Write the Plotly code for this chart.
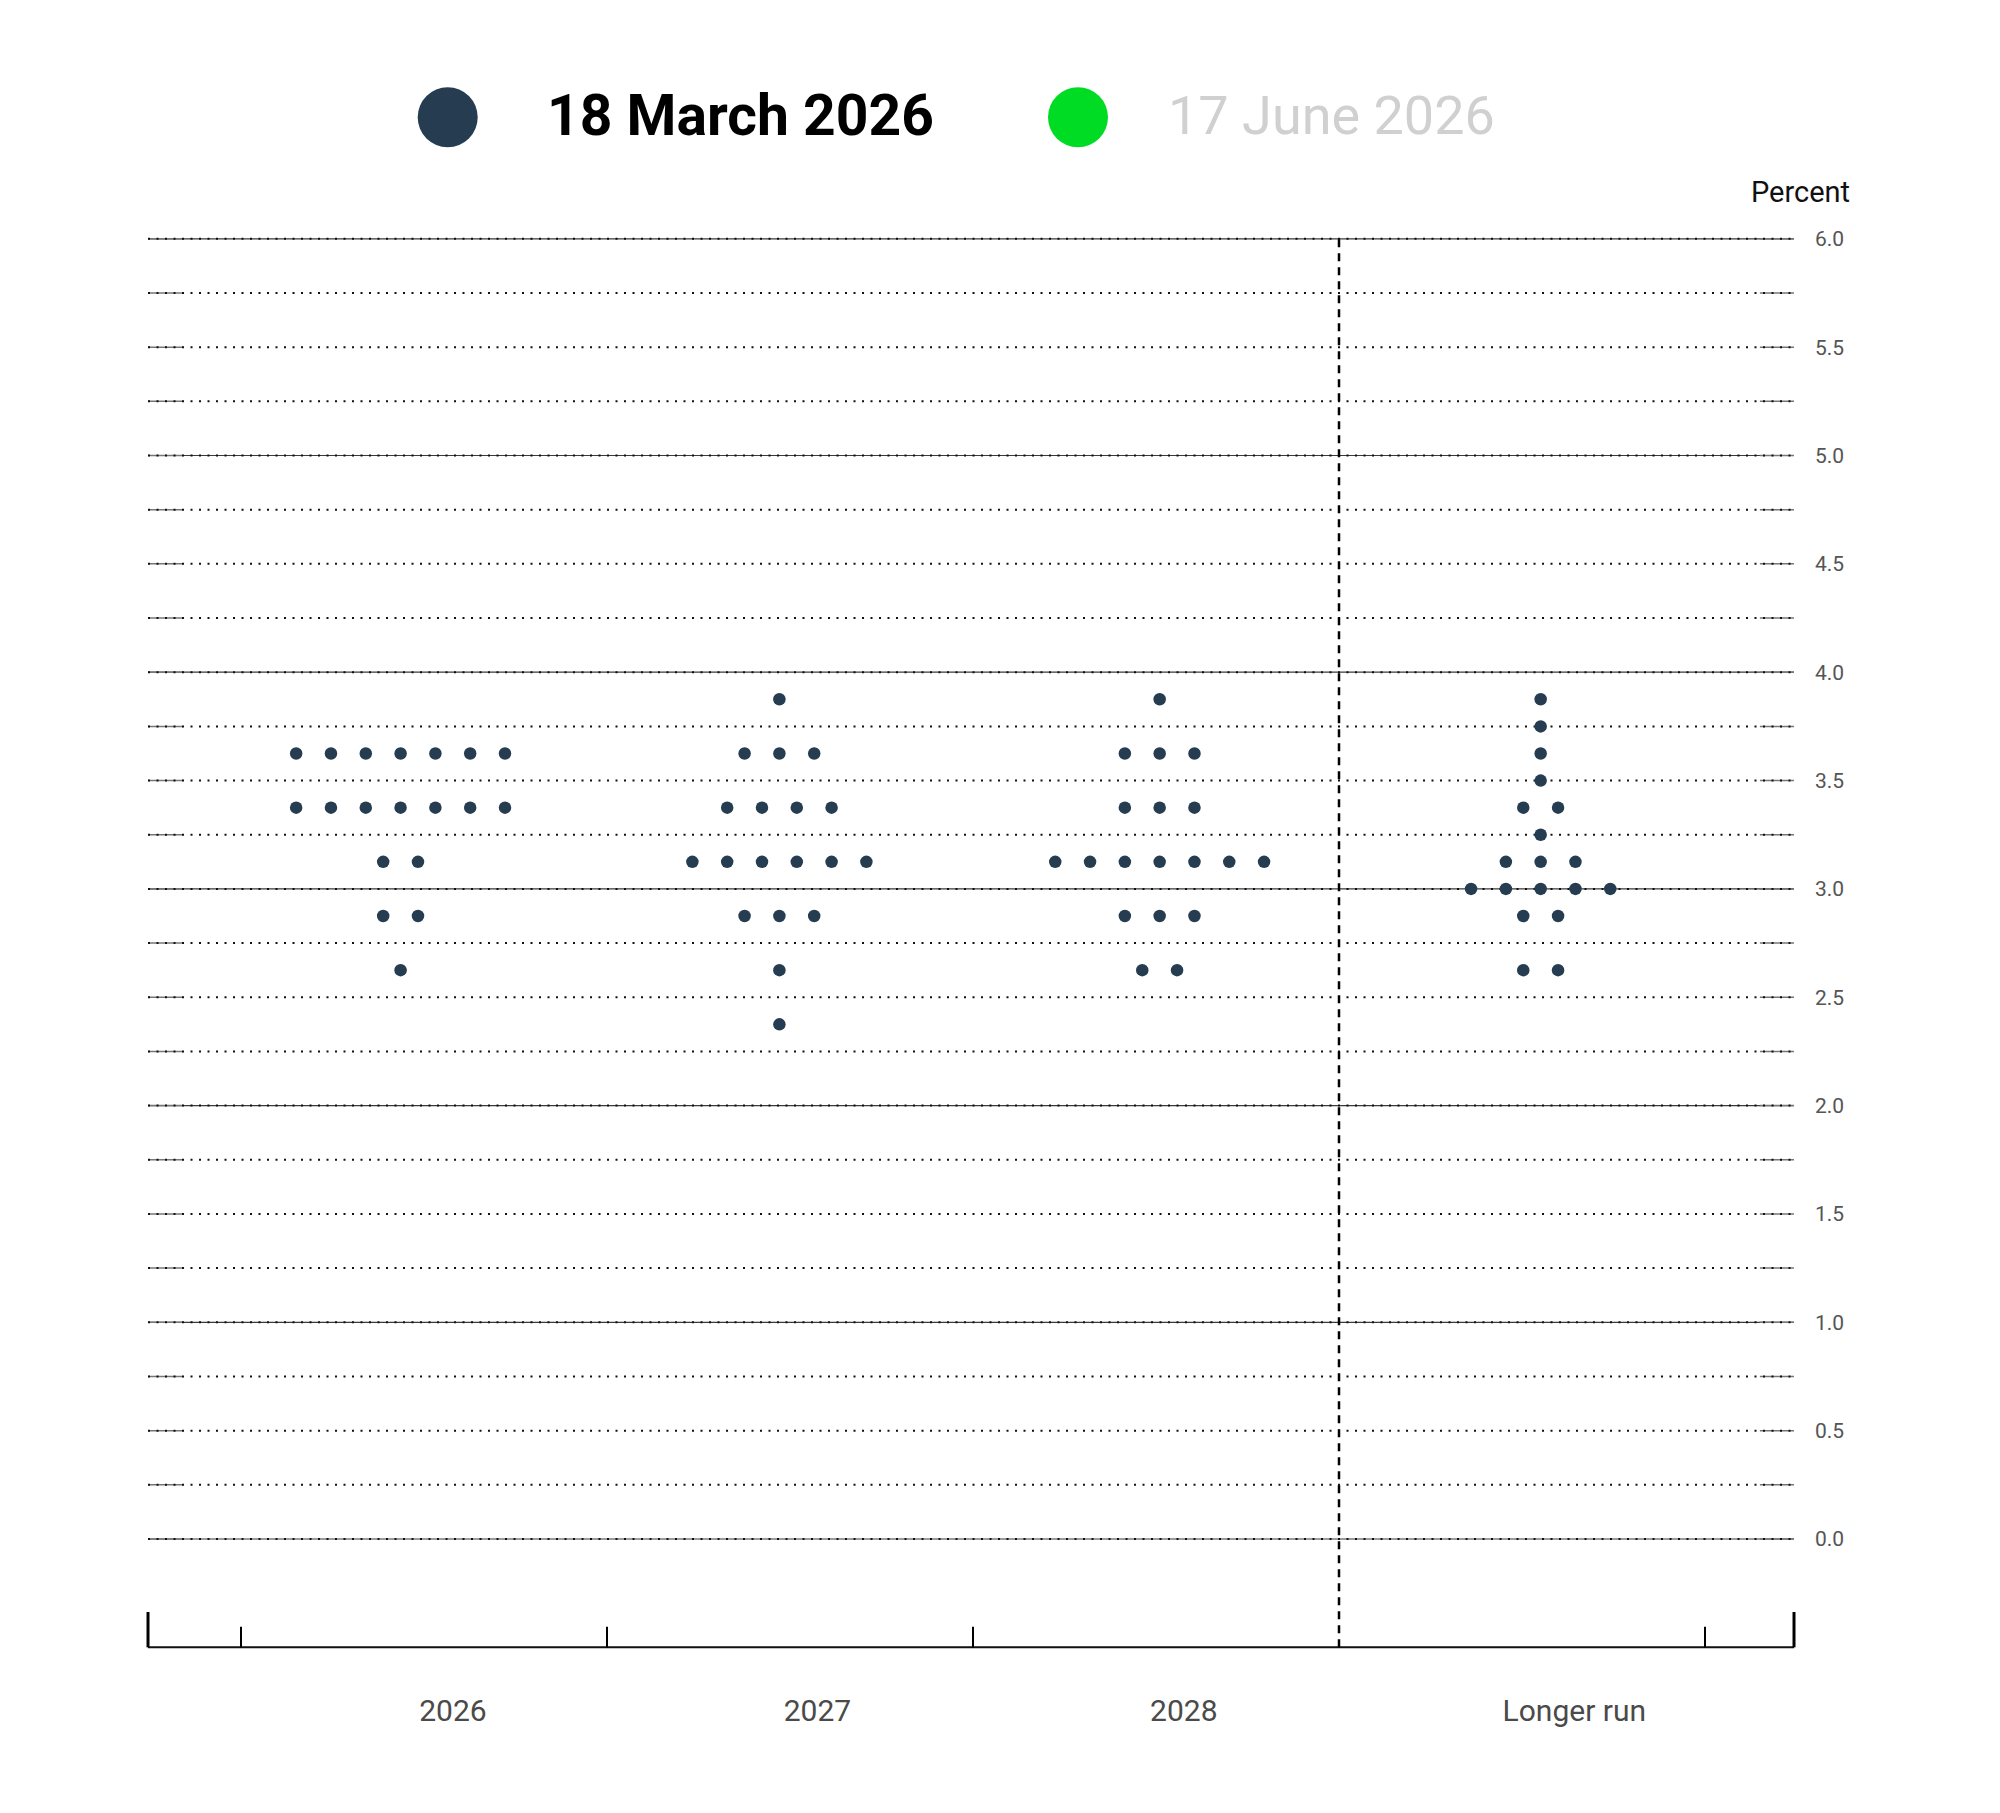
import plotly.graph_objects as go

# ---------------- data ----------------
categories = ["2026", "2027", "2028", "Longer run"]

proj_2026 = [3.625, 3.625, 3.625, 3.625, 3.625, 3.625, 3.625,
             3.375, 3.375, 3.375, 3.375, 3.375, 3.375, 3.375,
             3.125, 3.125,
             2.875, 2.875,
             2.625]
proj_2027 = [3.875,
             3.625, 3.625, 3.625,
             3.375, 3.375, 3.375, 3.375,
             3.125, 3.125, 3.125, 3.125, 3.125, 3.125,
             2.875, 2.875, 2.875,
             2.625,
             2.375]
proj_2028 = [3.875,
             3.625, 3.625, 3.625,
             3.375, 3.375, 3.375,
             3.125, 3.125, 3.125, 3.125, 3.125, 3.125, 3.125,
             2.875, 2.875, 2.875,
             2.625, 2.625]
proj_longer = [3.875, 3.75, 3.625, 3.5,
               3.375, 3.375,
               3.25,
               3.125, 3.125, 3.125,
               3.0, 3.0, 3.0, 3.0, 3.0,
               2.875, 2.875,
               2.625, 2.625]
projections = [proj_2026, proj_2027, proj_2028, proj_longer]

y_tick_vals = [0.0, 0.5, 1.0, 1.5, 2.0, 2.5, 3.0, 3.5, 4.0, 4.5, 5.0, 5.5, 6.0]
y_tick_text = ["0.0", "0.5", "1.0", "1.5", "2.0", "2.5", "3.0", "3.5", "4.0", "4.5", "5.0", "5.5", "6.0"]
legend_labels = ["18 March 2026", "17 June 2026"]
y_title = "Percent"

# ---------------- layout geometry ----------------
W, H = 2000, 1813
DOT_COLOR = "#263c51"
GREEN = "#00dc23"
FONT = "Roboto"

# axis units: category band boundaries at integers (0..4), percent on y
X_DOMAIN_PX = (130, 1810)
Y_DOMAIN_PX = (220, 1665)          # top, bottom in pixels
X_RANGE = [-0.3033, 4.2869]
Y_RANGE = [-0.5815, 6.0868]
X_LEFT, X_RIGHT = -0.2541, 4.2432  # visible extent of the frame
SEG_L, SEG_R = -0.1585, 4.150      # end of solid stubs on grid lines
Y_BASE = -0.5
cat_centers = [0.436, 1.471, 2.510, 3.551]
label_centers = [0.579, 1.575, 2.576, 3.643]
band_ticks = [0, 1, 2, 4]
divider_x = 3
DOT_STEP = 0.0951

# ---------------- dots ----------------
xs, ys = [], []
for cx, vals in zip(cat_centers, projections):
    levels = []
    for v in vals:
        if v not in levels:
            levels.append(v)
    for lv in levels:
        n = vals.count(lv)
        for k in range(n):
            xs.append(cx + (k - (n - 1) / 2) * DOT_STEP)
            ys.append(lv)

fig = go.Figure()
fig.add_trace(go.Scatter(
    x=xs, y=ys, mode="markers", name=legend_labels[0],
    marker=dict(size=12.5, color=DOT_COLOR, line=dict(width=0)),
    showlegend=False, cliponaxis=False, hoverinfo="y",
))

# ---------------- grid lines ----------------
shapes = []
grid_levels = [i * 0.25 for i in range(25)]
for g in grid_levels:
    if abs(g - round(g)) < 1e-9:
        shapes.append(dict(type="line", xref="x", yref="y", x0=X_LEFT, x1=X_RIGHT, y0=g, y1=g,
                           line=dict(color="#3a3a3a", width=1.2), layer="below"))
    shapes.append(dict(type="line", xref="x", yref="y", x0=X_LEFT, x1=SEG_L, y0=g, y1=g,
                       line=dict(color="#777777", width=1.5), layer="below"))
    shapes.append(dict(type="line", xref="x", yref="y", x0=SEG_R, x1=X_RIGHT, y0=g, y1=g,
                       line=dict(color="#777777", width=1.5), layer="below"))
    shapes.append(dict(type="line", xref="x", yref="y", x0=X_LEFT, x1=X_RIGHT, y0=g, y1=g,
                       line=dict(color="#111111", width=2, dash="2px,6.5px"), layer="below"))

# baseline and ticks
shapes.append(dict(type="line", xref="x", yref="y", x0=X_LEFT, x1=X_RIGHT, y0=Y_BASE, y1=Y_BASE,
                   line=dict(color="#111111", width=2)))
for ex in (X_LEFT, X_RIGHT):
    shapes.append(dict(type="line", xref="x", yref="y", x0=ex, x1=ex, y0=Y_BASE, y1=Y_BASE + 0.163,
                       line=dict(color="#000000", width=3)))
for bx in band_ticks:
    shapes.append(dict(type="line", xref="x", yref="y", x0=bx, x1=bx, y0=Y_BASE, y1=Y_BASE + 0.095,
                       line=dict(color="#000000", width=2)))
# dashed divider before "Longer run"
shapes.append(dict(type="line", xref="x", yref="y", x0=divider_x, x1=divider_x, y0=Y_BASE, y1=6.0,
                   line=dict(color="#000000", width=2.5, dash="8px,6px")))

# legend (drawn)
LEG_Y = 1 - 117.3 / H
for cx_px, col in ((447.7, DOT_COLOR), (1078.0, GREEN)):
    shapes.append(dict(type="circle", xref="paper", yref="paper", xsizemode="pixel", ysizemode="pixel",
                       xanchor=cx_px / W, yanchor=LEG_Y, x0=-30, x1=30, y0=-30, y1=30,
                       fillcolor=col, line=dict(width=0)))

annotations = [
    dict(text=legend_labels[0], xref="paper", yref="paper", x=545 / W, y=LEG_Y + 1.5 / H, xanchor="left",
         yanchor="middle", showarrow=False, font=dict(family=FONT, size=57, color="#000000", weight="bold")),
    dict(text=legend_labels[1], xref="paper", yref="paper", x=1166 / W, y=LEG_Y + 1.5 / H, xanchor="left",
         yanchor="middle", showarrow=False, font=dict(family=FONT, size=54, color="#d0d0d0")),
    dict(text=y_title, xref="paper", yref="paper", x=1852 / W, y=1 - 192 / H, xanchor="right",
         yanchor="middle", showarrow=False, font=dict(family=FONT, size=29, color="#111111")),
]

fig.update_layout(
    width=W, height=H,
    margin=dict(l=0, r=0, t=0, b=0),
    paper_bgcolor="white", plot_bgcolor="white",
    shapes=shapes, annotations=annotations,
    xaxis=dict(domain=[X_DOMAIN_PX[0] / W, X_DOMAIN_PX[1] / W], range=X_RANGE,
               showgrid=False, zeroline=False, showline=False, ticks="",
               tickmode="array", tickvals=label_centers, ticktext=categories,
               tickfont=dict(family=FONT, size=30, color="#4a4a4a"), ticklabelstandoff=25),
    yaxis=dict(domain=[1 - Y_DOMAIN_PX[1] / H, 1 - Y_DOMAIN_PX[0] / H], range=Y_RANGE,
               side="right", showgrid=False, zeroline=False, showline=False, ticks="",
               tickmode="array", tickvals=y_tick_vals, ticktext=y_tick_text,
               tickfont=dict(family=FONT, size=21, color="#555555"), ticklabelstandoff=4),
    showlegend=False,
)

fig.write_html("out.html")
